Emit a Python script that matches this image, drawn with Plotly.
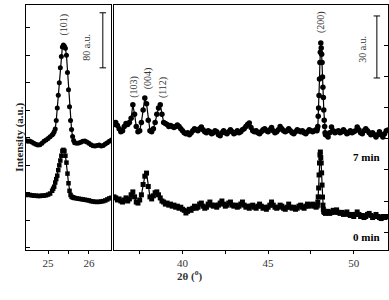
import numpy as np
import plotly.graph_objects as go

# ---------------- data ----------------
# left panel 2theta grid (deg)
left_x = np.round(np.concatenate([
    np.linspace(24.45, 25.10, 14),
    np.linspace(25.125, 25.625, 21),
    np.linspace(25.65, 26.55, 19)]), 3)

left_7min = [156, 155, 155.5, 154, 152, 150.5, 149.7, 150, 152, 155, 157, 159, 161.4, 164,
             166, 169, 173, 185, 203.5, 222, 240, 262, 278, 292, 295, 293, 290, 280, 255, 230, 205, 185, 172, 162, 156,
             153, 152, 152.5, 153.5, 155, 155.5, 154, 152, 150, 148.5, 148, 149, 149.5, 148, 149, 151, 153, 155, 157]

left_0min = [77, 77.5, 77, 76.5, 76, 76, 75.5, 75.5, 76, 76, 76.5, 77.5, 79, 83,
             86, 89, 95, 100, 105, 113, 120, 127, 134, 141, 142.5, 141, 134, 124, 108, 94, 83, 77, 74.5, 73.5, 73,
             72.5, 72, 71.5, 71, 70.5, 70, 69.5, 69, 68, 67.5, 67, 66.8, 67, 67.5, 68, 69, 70.5, 72, 73]

# right panel 2theta grid (deg)
right_x = np.round(np.concatenate([
    np.linspace(36.0, 47.8, 119),
    np.linspace(47.85, 48.35, 21),
    np.linspace(48.4, 52.0, 37)]), 3)

right_7min = [
    67, 68, 66.5, 65, 63.5, 64, 66, 67.5, 67, 68,
    70, 76.5, 72, 66, 63.5, 64, 68, 74, 79.8, 77,
    69, 64, 63.5, 65, 68, 72, 75, 76.5, 72, 68,
    67.5, 67, 66, 66.5, 66, 65.5, 66, 66.8, 66, 65,
    64, 63, 62.5, 63, 62, 62.9, 64, 65, 64.5, 64,
    65, 65.8, 64.5, 63.5, 63, 64, 63.5, 62.5, 63, 64,
    63.5, 62, 61.5, 63, 64, 63, 62.5, 63.5, 64.5, 63.5,
    62.5, 63, 64, 63, 63.5, 64.5, 65, 66, 67, 67.7,
    65.5, 64, 63.5, 64, 63, 62.5, 63.5, 64.5, 65, 64,
    63.5, 64.5, 65.5, 64, 63, 63.5, 64.5, 66, 65, 64,
    63.5, 64, 65, 64, 63, 62.5, 63.5, 64.5, 64, 63.5,
    64, 63, 62.5, 63.5, 64.5, 64, 63.5, 64, 64.5,
    64, 65, 66, 71, 75, 81, 89, 97, 102, 106.4, 104, 101, 97, 90, 85, 80, 74, 69, 66, 63, 62,
    62, 61, 63, 65.8, 64, 63, 63.5, 64, 63, 63.5,
    64.5, 63.5, 62.5, 63, 64, 63, 63.5, 64, 65.8, 64.5,
    63, 62.5, 64, 65, 64, 63, 62, 63, 62, 61,
    62, 63.5, 62, 61, 62.5, 64, 64.4]

right_0min = [
    32, 31.5, 30.5, 31, 30, 29.5, 30.5, 31.5, 30, 31,
    33, 34.4, 32, 29.5, 29, 30.5, 33, 38, 42, 43.5,
    37, 32, 31, 32.5, 34, 34.4, 33, 31.5, 30, 29.5,
    28.5, 29, 28, 28.5, 27.5, 28, 27, 27.5, 26.5, 27,
    26, 25.5, 24.2, 25, 26, 25.5, 26.5, 27.5, 26.5, 27,
    28.5, 29, 27.5, 26.5, 27, 28.5, 29.5, 28, 27.5, 28,
    27, 28, 29, 30, 28.5, 27.5, 28, 29, 29.5, 28,
    27.5, 28, 27, 27.5, 28.5, 29.5, 28, 27, 27.5, 26.5,
    27.5, 28, 27, 26.5, 27.5, 28.5, 27.5, 26.5, 27, 26,
    27, 28, 29.5, 28, 27, 26.5, 27, 28, 27.5, 26.5,
    26, 27, 28.5, 27, 26.5, 27, 26, 26.5, 27.5, 28,
    27, 26.5, 27.5, 28.5, 27.5, 28, 28.5, 27.5, 27,
    27.5, 28, 29.5, 32, 36.3, 42.6, 48.4, 52.3, 53.7, 51, 48.4, 43.6, 37.7, 31.9, 28, 26, 25, 24.5, 25, 24.5, 24,
    24.5, 25, 24, 24.5, 25.5, 24.5, 25.7, 24.5, 24, 24.5,
    23.5, 24, 24.7, 23.5, 23, 23.5, 22.5, 23.5, 24.7, 23.5,
    22.5, 23, 22, 22.5, 23.5, 24, 23, 22, 22.5, 23.5,
    22.5, 22, 21.5, 22.5, 22, 22.5, 22.3]

assert len(left_7min) == len(left_x) == len(left_0min)
assert len(right_7min) == len(right_x) == len(right_0min)

left_ticks = [25, 25.5, 26]
left_ticktext = ["25", " ", "26"]
right_ticks = [37.5, 40, 42.5, 45, 47.5, 50]
right_ticktext = [" ", "40", " ", "45", " ", "50"]

peaks_right = [("(103)", 37.2, 85), ("(004)", 38.0, 89.5), ("(112)", 38.85, 85), ("(200)", 48.08, 116.5)]
peak_left = ("(101)", 25.38, 324)

# ---------------- figure ----------------
SERIF = "Liberation Serif"
line_style = dict(color="black", width=1.2)

fig = go.Figure()
fig.add_trace(go.Scatter(x=left_x, y=left_7min, mode="lines+markers", xaxis="x", yaxis="y",
                         line=line_style, marker=dict(symbol="circle", size=5, color="black")))
fig.add_trace(go.Scatter(x=left_x, y=left_0min, mode="lines+markers", xaxis="x", yaxis="y",
                         line=line_style, marker=dict(symbol="square", size=4.5, color="black")))
fig.add_trace(go.Scatter(x=right_x, y=right_7min, mode="lines+markers", xaxis="x2", yaxis="y2",
                         line=line_style, marker=dict(symbol="circle", size=5.5, color="black")))
fig.add_trace(go.Scatter(x=right_x, y=right_0min, mode="lines+markers", xaxis="x2", yaxis="y2",
                         line=line_style, marker=dict(symbol="square", size=5, color="black")))

ax_common = dict(showgrid=False, zeroline=False, showline=True, linecolor="black", linewidth=1,
                 tickcolor="black", tickfont=dict(family=SERIF, size=11, color="#333"))

d1 = [0, 0.2348]
d2 = [0.2431, 1]
lrange = [24.46, 26.54]
rrange = [36, 52]

fig.update_layout(
    width=389, height=300,
    margin=dict(l=26, r=1, t=5, b=50),
    paper_bgcolor="white", plot_bgcolor="white",
    showlegend=False,
    xaxis=dict(ax_common, domain=d1, range=lrange, anchor="y", tickmode="array",
               tickvals=left_ticks, ticktext=left_ticktext, ticks="outside", ticklen=3, mirror=True),
    xaxis3=dict(ax_common, domain=d1, range=lrange, anchor="y", overlaying="x", side="top",
                tickmode="array", tickvals=left_ticks, ticks="inside", ticklen=4,
                showticklabels=False, showline=False),
    yaxis=dict(ax_common, domain=[0, 1], range=[-3, 353], anchor="x", tickmode="array",
               tickvals=list(range(0, 321, 40)), ticks="inside", ticklen=4,
               showticklabels=False, mirror=True),
    xaxis2=dict(ax_common, domain=d2, range=rrange, anchor="y2", tickmode="array",
                tickvals=right_ticks, ticktext=right_ticktext, ticks="outside", ticklen=3, mirror=True),
    xaxis4=dict(ax_common, domain=d2, range=rrange, anchor="y2", overlaying="x2", side="top",
                tickmode="array", tickvals=right_ticks, ticks="inside", ticklen=4,
                showticklabels=False, showline=False),
    yaxis2=dict(ax_common, domain=[0, 1], range=[6.3, 124.8], anchor="x2", side="right",
                tickmode="array", tickvals=list(range(15, 106, 15)), ticks="inside", ticklen=4,
                showticklabels=False, mirror=True),
)

# scale bars
bar_l = dict(x=26.34, y0=261.7, y1=341.7, half=0.08)
bar_r = dict(x=51.35, y0=89.5, y1=119.5, half=0.19)
for (b, xr, yr) in [(bar_l, "x", "y"), (bar_r, "x2", "y2")]:
    fig.add_shape(type="line", xref=xr, yref=yr, x0=b["x"], x1=b["x"], y0=b["y0"], y1=b["y1"],
                  line=dict(color="black", width=1))
    for yy in (b["y0"], b["y1"]):
        fig.add_shape(type="line", xref=xr, yref=yr, x0=b["x"] - b["half"], x1=b["x"] + b["half"],
                      y0=yy, y1=yy, line=dict(color="black", width=1))

small = dict(family=SERIF, size=10, color="#333")
fig.add_annotation(x=peak_left[1], y=peak_left[2], xref="x", yref="y", text=peak_left[0],
                   textangle=-90, showarrow=False, font=small)
fig.add_annotation(x=25.95, y=292, xref="x", yref="y", text="80 a.u.", textangle=-90,
                   showarrow=False, font=small)
for (t, xx, yy) in peaks_right:
    fig.add_annotation(x=xx, y=yy, xref="x2", yref="y2", text=t, textangle=-90,
                       showarrow=False, font=small)
fig.add_annotation(x=50.47, y=103.5, xref="x2", yref="y2", text="30 a.u.", textangle=-90,
                   showarrow=False, font=small)

bold = dict(family=SERIF, size=11, color="black")
fig.add_annotation(x=50.73, y=51.3, xref="x2", yref="y2", text="<b>7 min</b>", showarrow=False, font=bold)
fig.add_annotation(x=50.73, y=12.6, xref="x2", yref="y2", text="<b>0 min</b>", showarrow=False, font=bold)

fig.add_annotation(x=-0.044, y=0.461, xref="paper", yref="paper", text="<b>Intensity (a.u.)</b>",
                   textangle=-90, showarrow=False, font=dict(family=SERIF, size=11, color="#222"))
fig.add_annotation(x=0.453, y=-0.143, xref="paper", yref="paper", text="<b>2θ (<sup>o</sup>)</b>",
                   showarrow=False, font=dict(family=SERIF, size=11, color="#333"))

fig.write_html("out.html")
